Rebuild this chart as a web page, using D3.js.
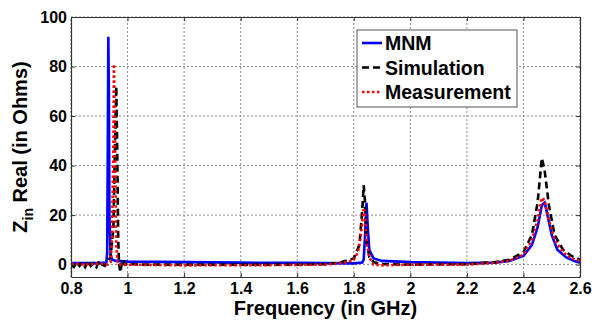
<!DOCTYPE html>
<html>
<head>
<meta charset="utf-8">
<style>
  body { margin: 0; background: #fff; }
  text { font-family: "Liberation Sans", Arial, sans-serif; font-weight: bold; }
</style>
</head>
<body>
<div id="chart"></div>
<script src="https://cdn.jsdelivr.net/npm/d3@7"></script>
<script>

// values (frequency in GHz, Re(Zin) in ohms)
var mnmFreq = [0.80,0.90,0.925,0.928,0.930,0.932,0.934,0.936,0.940,0.945,0.96,1.0,1.2,1.4,1.6,1.7,1.8,1.83,1.835,1.84,1.845,1.85,1.855,1.87,1.9,2.0,2.2,2.3,2.35,2.4,2.43,2.45,2.465,2.475,2.485,2.5,2.52,2.55,2.58,2.6];
var mnmVal  = [0.6,0.6,0.8,5,45,92,68,20,4,2,1.5,1.2,1.0,0.8,0.7,0.6,0.5,0.8,2,12,25,14,6,2.5,1.5,1.0,0.6,0.8,1.5,3.5,8,15,24,25,20,12,6,3,1.5,0.8];

var simFreq = [0.80,0.81,0.82,0.83,0.84,0.85,0.86,0.87,0.88,0.89,0.90,0.91,0.92,0.93,0.94,0.95,0.955,0.96,0.963,0.967,0.97,0.975,0.98,0.985,0.99,1.0,1.05,1.3,1.6,1.7,1.75,1.8,1.82,1.83,1.835,1.84,1.845,1.855,1.87,1.9,2.0,2.2,2.3,2.35,2.4,2.43,2.45,2.465,2.475,2.49,2.51,2.54,2.57,2.6];
var simVal  = [0,-1,1,-0.5,0.8,-1,1.5,-0.5,0.5,-1,1.5,0,-0.5,1.5,3,15,45,72,50,10,0,-3,1,2,0,0.3,0,0,0,0.2,0.8,2.5,8,22,32,25,10,3,1,0.2,0,0.2,1,2,5,12,25,43,38,24,12,6,3.5,2];

var measFreq = [0.80,0.85,0.90,0.93,0.94,0.945,0.95,0.952,0.955,0.96,0.965,0.97,1.0,1.2,1.5,1.7,1.78,1.8,1.815,1.825,1.835,1.84,1.845,1.855,1.87,1.9,2.0,2.2,2.3,2.35,2.4,2.43,2.45,2.465,2.475,2.49,2.51,2.54,2.57,2.6];
var measVal  = [0.5,0,0.5,0,1,10,50,81,55,8,1,0,0,-0.3,-0.2,0,1,2,5,12,23,20,10,3,0,-0.3,0,0,0.8,1.5,4,10,18,27,26,18,10,5,2.5,1.5];

var xTicks = [0.8,1,1.2,1.4,1.6,1.8,2,2.2,2.4,2.6];
var yTicks = [0,20,40,60,80,100];

var series = [
  {name: "MNM", freq: mnmFreq, val: mnmVal, color: "#0000ff", dash: null},
  {name: "Simulation", freq: simFreq, val: simVal, color: "#000000", dash: "7,4"},
  {name: "Measurement", freq: measFreq, val: measVal, color: "#ff0000", dash: "2.5,2.5"}
];

var width = 592, height = 321;
var margin = {left: 71, right: 12, top: 17, bottom: 44};

var x = d3.scaleLinear().domain([0.8, 2.6]).range([margin.left, width - margin.right]);
var y = d3.scaleLinear().domain([-5, 100]).range([height - margin.bottom, margin.top]);

var svg = d3.select("#chart").append("svg")
  .attr("width", width).attr("height", height);

// grid
svg.append("g").selectAll("line").data(xTicks).enter().append("line")
  .attr("x1", d => x(d)).attr("x2", d => x(d))
  .attr("y1", y.range()[0]).attr("y2", y.range()[1])
  .attr("stroke", "#8c8c8c").attr("stroke-dasharray", "2,2").attr("stroke-width", 1);
svg.append("g").selectAll("line").data(yTicks).enter().append("line")
  .attr("x1", x.range()[0]).attr("x2", x.range()[1])
  .attr("y1", d => y(d)).attr("y2", d => y(d))
  .attr("stroke", "#8c8c8c").attr("stroke-dasharray", "2,2").attr("stroke-width", 1);

// curves
svg.append("clipPath").attr("id", "clip").append("rect")
  .attr("x", x.range()[0]).attr("y", y.range()[1])
  .attr("width", x.range()[1] - x.range()[0]).attr("height", y.range()[0] - y.range()[1]);

var line = d3.line().x(d => x(d[0])).y(d => y(d[1]));
series.forEach(function(s) {
  svg.append("path")
    .datum(d3.zip(s.freq, s.val))
    .attr("d", line)
    .attr("clip-path", "url(#clip)")
    .attr("fill", "none")
    .attr("stroke", s.color)
    .attr("stroke-width", 2.6)
    .attr("stroke-dasharray", s.dash);
});

// axes
svg.append("g").attr("transform", "translate(0," + y.range()[0] + ")")
  .call(d3.axisBottom(x).tickValues(xTicks).tickSizeInner(-4).tickSizeOuter(0).tickPadding(6)
    .tickFormat(d3.format("")));
svg.append("g").attr("transform", "translate(" + x.range()[0] + ",0)")
  .call(d3.axisLeft(y).tickValues(yTicks).tickSizeInner(-4).tickSizeOuter(0).tickPadding(4));
svg.append("g").attr("transform", "translate(0," + y.range()[1] + ")")
  .call(d3.axisTop(x).tickValues(xTicks).tickSizeInner(-4).tickSizeOuter(0).tickFormat(""));
svg.append("g").attr("transform", "translate(" + x.range()[1] + ",0)")
  .call(d3.axisRight(y).tickValues(yTicks).tickSizeInner(-4).tickSizeOuter(0).tickFormat(""));

svg.selectAll(".domain").attr("stroke", "#333").attr("stroke-width", 1.2);
svg.selectAll(".tick line").attr("stroke", "#333");
svg.selectAll(".tick text").attr("font-size", 16).attr("fill", "#000")
  .style("font-family", "'Liberation Sans', Arial, sans-serif").style("font-weight", "bold");

// axis labels
svg.append("text").attr("x", (x.range()[0] + x.range()[1]) / 2).attr("y", 315)
  .attr("text-anchor", "middle").attr("font-size", 20).text("Frequency (in GHz)");

var yl = svg.append("text")
  .attr("transform", "translate(27,147) rotate(-90)")
  .attr("text-anchor", "middle").attr("font-size", 20);
yl.append("tspan").text("Z");
yl.append("tspan").attr("font-size", 14).attr("dy", 6).text("in");
yl.append("tspan").attr("dy", -6).text(" Real (in Ohms)");

// legend
var lg = svg.append("g").attr("transform", "translate(357,30)");
lg.append("rect").attr("width", 160).attr("height", 77)
  .attr("fill", "#fff").attr("stroke", "#555").attr("stroke-width", 1);
series.forEach(function(s, i) {
  var cy = 13 + i * 24.5;
  lg.append("line").attr("x1", 5).attr("x2", 25).attr("y1", cy).attr("y2", cy)
    .attr("stroke", s.color).attr("stroke-width", 2.6).attr("stroke-dasharray", s.dash);
  lg.append("text").attr("x", 28).attr("y", cy + 7).attr("font-size", 19.5).text(s.name);
});

</script>
</body>
</html>
